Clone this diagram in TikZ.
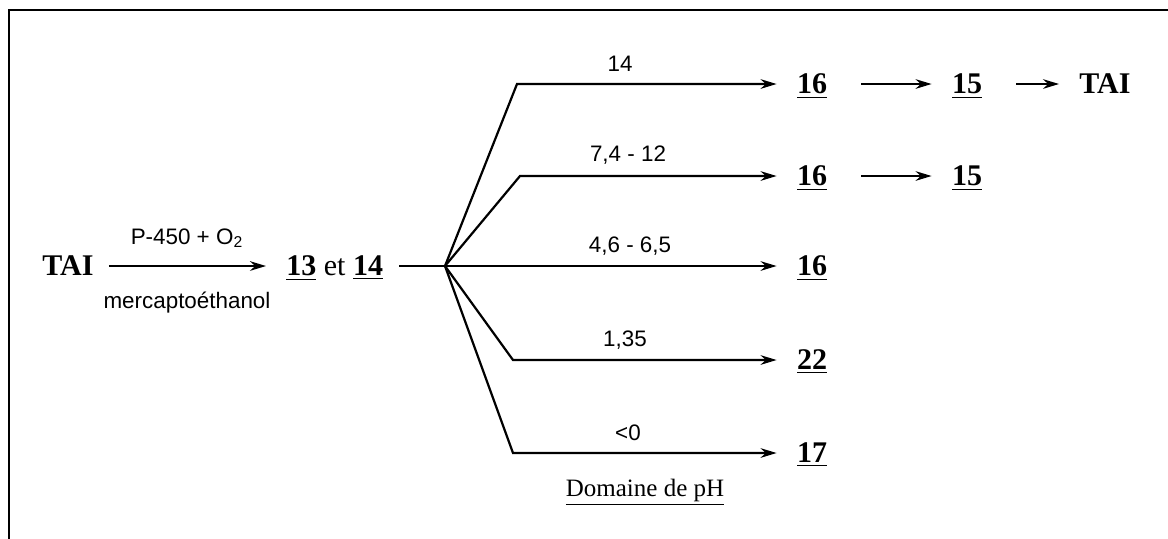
\documentclass[tikz,border=0pt]{standalone}
\usepackage{fontspec}
\setmainfont{Liberation Serif}
\setsansfont{Liberation Sans}
\usetikzlibrary{arrows.meta, positioning}

\tikzset{
  cpd/.style={font=\fontsize{15}{17}\selectfont\bfseries, inner sep=0pt, text height=9.8pt, text depth=0pt},
  cond/.style={font=\sffamily\fontsize{11.2}{13}\selectfont, inner sep=0pt},
  rxn/.style={line width=1.1pt, shorten >=10pt, -{Stealth[length=8pt, width=4.8pt]}},
  branch/.style={line width=1.1pt},
}
\newcommand{\cpdnum}[1]{\underline{#1}}

\begin{document}
\begin{tikzpicture}[x=0.5pt, y=-0.5pt]
        \useasboundingbox (0,0) rectangle (1168,538);
        % --- Cadre ---
        \draw[line width=1pt] (9,560) -- (9,10) -- (1190,10);

        % --- Oxydation de TAI ---
        \node[cpd] (tai) at (68,266) {TAI};
        \node[cpd, anchor=west] (p1314) at (286,266) {\cpdnum{13} {\mdseries et} \cpdnum{14}};
        \draw[rxn, shorten <=7.5pt] (tai) -- (p1314);
        \node[cond] (enz) at (187,238) {P-450 + O\textsubscript{2}};
        \node[cond] (thiol) at (187,303) {mercaptoéthanol};

        % --- Embranchement selon le pH ---
        \coordinate (fork) at (445,266);
        \coordinate (c1) at (517,84);
        \coordinate (c2) at (520,176);
        \coordinate (c4) at (513,360);
        \coordinate (c5) at (513,453);
        \draw[branch, shorten <=8pt] (p1314) -- (fork);

        % Produits
        \node[cpd] (p16a) at (812,84) {\cpdnum{16}};
        \node[cpd] (p16b) at (812,176) {\cpdnum{16}};
        \node[cpd] (p16c) at (812,266) {\cpdnum{16}};
        \node[cpd] (p22) at (812,360) {\cpdnum{22}};
        \node[cpd] (p17) at (812,453) {\cpdnum{17}};

        \draw[rxn] (fork) -- (c1) -- (p16a);
        \draw[rxn] (fork) -- (c2) -- (p16b);
        \draw[rxn] (fork) -- (p16c);
        \draw[rxn] (fork) -- (c4) -- (p22);
        \draw[rxn] (fork) -- (c5) -- (p17);

        % Valeurs de pH
        \node[cond] (ph1) at (620,64) {14};
        \node[cond] (ph2) at (628,155) {7,4 - 12};
        \node[cond] (ph3) at (630,246) {4,6 - 6,5};
        \node[cond] (ph4) at (625,340) {1,35};
        \node[cond] (ph5) at (628,433) {<0};

        % --- Suites ---
        \node[cpd] (p15a) at (967,84) {\cpdnum{15}};
        \node[cpd] (taib) at (1105,84) {TAI};
        \node[cpd] (p15b) at (967,176) {\cpdnum{15}};
        \draw[rxn, shorten <=17pt] (p16a) -- (p15a);
        \draw[rxn, shorten <=17pt] (p15a) -- (taib);
        \draw[rxn, shorten <=17pt] (p16b) -- (p15b);

        % --- Légende ---
        \node[font=\fontsize{12.5}{14}\selectfont] (domaine) at (645,492) {\underline{Domaine de pH}};
\end{tikzpicture}
\end{document}
